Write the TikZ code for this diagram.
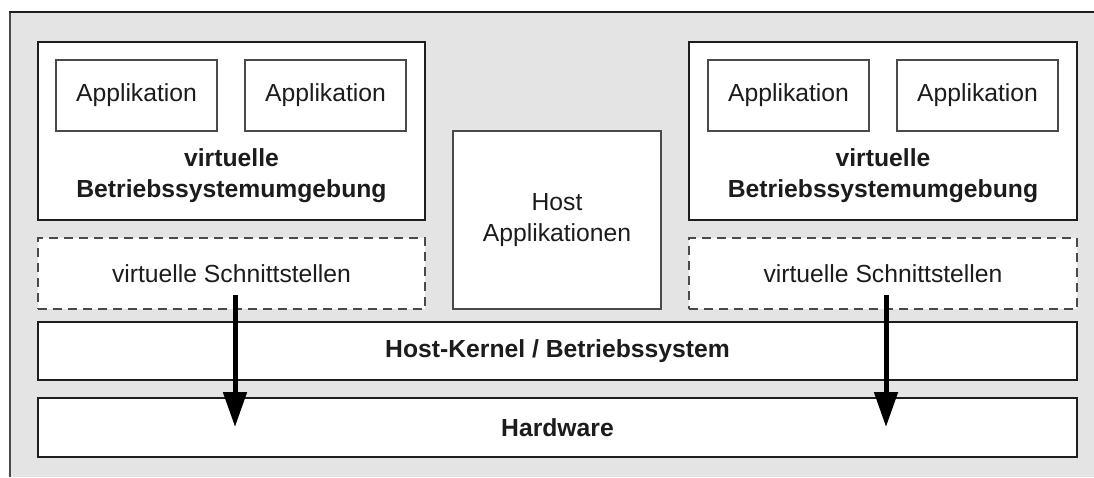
\documentclass[tikz,border=0pt]{standalone}
\usepackage{fontspec}
\setmainfont{Liberation Sans}
\usetikzlibrary{arrows.meta}
\definecolor{panel}{HTML}{E4E4E4}
\definecolor{inkdark}{HTML}{1E1E1E}
\definecolor{inkgray}{HTML}{4A4A4A}
\definecolor{txt}{HTML}{1C1C1C}
\tikzset{
  box/.style={draw=inkdark, line width=2.4pt, fill=white, anchor=north west,
    inner sep=0pt, outer sep=0pt, text=txt, align=center,
    font=\fontsize{24.7}{31}\selectfont},
  appbox/.style={box, draw=inkgray, line width=1.6pt},
  ifbox/.style={box, draw=inkgray, line width=1.6pt, dash pattern=on 9pt off 6pt},
  layerbox/.style={box, line width=2pt},
  lbl/.style={text=txt, align=center, font=\fontsize{24.7}{31}\selectfont\bfseries},
  flow/.style={line width=5pt, draw=black, -{Triangle[width=23pt,length=35pt]}}
}
\begin{document}
\begin{tikzpicture}[x=1pt,y=-1pt]
\useasboundingbox (0,0) rectangle (1094,477);
% outer panel
\fill[panel] (10,12) rectangle (1094,477);
\draw[inkgray, line width=2pt] (10,477) -- (10,12);
\draw[inkdark, line width=2pt] (9,12) -- (1094,12);

% left virtual machine
\node[box, minimum width=387pt, minimum height=178pt] (vml) at (38,42) {};
\node[appbox, minimum width=161pt, minimum height=71pt] (al1) at (56,60) {Applikation};
\node[appbox, minimum width=161pt, minimum height=71pt] (al2) at (245,60) {Applikation};
\node[lbl] (osl) at (231.5,175.5) {virtuelle\\Betriebssystemumgebung};
\node[ifbox, minimum width=387pt, minimum height=71pt] (ifl) at (38,238) {virtuelle Schnittstellen};

% right virtual machine
\node[box, minimum width=388pt, minimum height=178pt] (vmr) at (689,42) {};
\node[appbox, minimum width=161pt, minimum height=71pt] (ar1) at (708,60) {Applikation};
\node[appbox, minimum width=161pt, minimum height=71pt] (ar2) at (897,60) {Applikation};
\node[lbl] (osr) at (883,175.5) {virtuelle\\Betriebssystemumgebung};
\node[ifbox, minimum width=388pt, minimum height=71pt] (ifr) at (689,238) {virtuelle Schnittstellen};

% host applications
\node[appbox, minimum width=208pt, minimum height=178pt] (host) at (453,131) {Host\\Applikationen};

% host kernel and hardware layers
\node[layerbox, minimum width=1039pt, minimum height=58pt, font=\fontsize{24.7}{31}\selectfont\bfseries] (kern) at (38,322) {Host-Kernel / Betriebssystem};
\node[layerbox, minimum width=1039pt, minimum height=59pt, font=\fontsize{24.7}{31}\selectfont\bfseries] (hw) at (38,398) {Hardware};

% calls passed through to the hardware
\coordinate (ls) at (235,295);
\coordinate (le) at (235,427);
\coordinate (rs) at (886,295);
\coordinate (re) at (886,427);
\draw[flow] (ls) -- (le);
\draw[flow] (rs) -- (re);
\end{tikzpicture}
\end{document}
